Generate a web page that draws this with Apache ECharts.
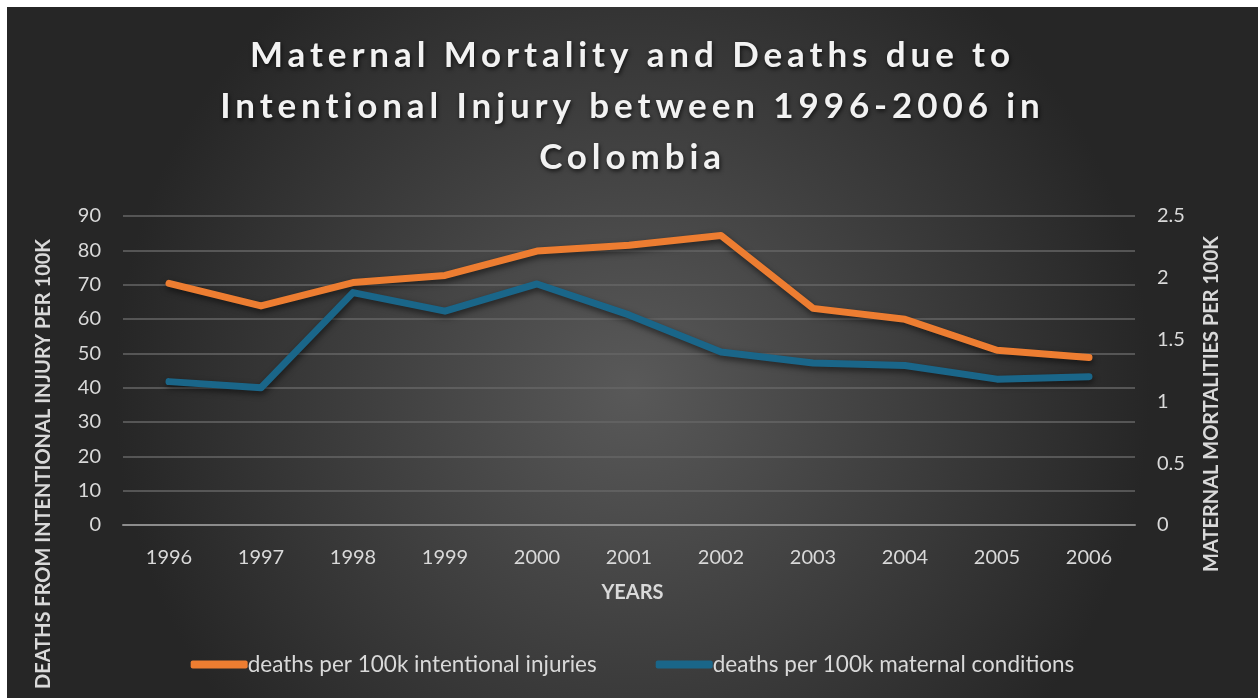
<!DOCTYPE html>
<html>
<head>
<meta charset="utf-8">
<style>
  html, body { margin: 0; padding: 0; background: #ffffff; }
  #chart { position: absolute; left: 7px; top: 7px; width: 1251px; height: 691px; }
</style>
<script src="https://cdn.jsdelivr.net/npm/echarts@6/dist/echarts.min.js"></script>
</head>
<body>
<div id="chart"></div>
<script>
// Years on the category axis
const years = ['1996', '1997', '1998', '1999', '2000', '2001', '2002', '2003', '2004', '2005', '2006'];
// Deaths per 100k from intentional injuries (left axis)
const intentionalInjuries = [70.4, 63.8, 70.6, 72.7, 79.8, 81.5, 84.3, 63.1, 59.9, 50.9, 48.8];
// Deaths per 100k from maternal conditions (right axis)
const maternalConditions = [1.16, 1.11, 1.88, 1.73, 1.95, 1.70, 1.40, 1.31, 1.29, 1.18, 1.20];

const titleText = 'Maternal Mortality and Deaths due to\nIntentional Injury between 1996-2006 in\nColombia';
const leftAxisTitle = 'DEATHS FROM INTENTIONAL INJURY PER 100K';
const rightAxisTitle = 'MATERNAL MORTALITIES PER 100K';
const xAxisTitle = 'YEARS';
const seriesNames = ['deaths per 100k intentional injuries', 'deaths per 100k maternal conditions'];

const FONT = 'Lato';
const TITLE_FONT = 'Lato, sans-serif';
const LABEL = '#d9d9d9';
const GRID_LINE = '#666666';

// Wide tracking for the heading: canvas text has no letter-spacing option in the
// chart config, so apply it on the 2D context whenever the heading font is drawn.
(function () {
  const proto = CanvasRenderingContext2D.prototype;
  const origFill = proto.fillText;
  proto.fillText = function (text, x, y, maxWidth) {
    const isHeading = this.font.indexOf('35px') !== -1 && this.font.indexOf('sans-serif') !== -1;
    if (isHeading && 'letterSpacing' in this) {
      const prev = this.letterSpacing;
      this.letterSpacing = '4.9px';
      const r = maxWidth === undefined ? origFill.call(this, text, x, y) : origFill.call(this, text, x, y, maxWidth);
      this.letterSpacing = prev;
      return r;
    }
    return maxWidth === undefined ? origFill.call(this, text, x, y) : origFill.call(this, text, x, y, maxWidth);
  };
})();

const chart = echarts.init(document.getElementById('chart'));

const lineShadow = { shadowColor: 'rgba(0,0,0,0.55)', shadowBlur: 6, shadowOffsetX: 1, shadowOffsetY: 3 };

chart.setOption({
  backgroundColor: {
    type: 'radial', x: 0.5, y: 0.55, r: 0.75,
    colorStops: [
      { offset: 0, color: '#595959' },
      { offset: 1, color: '#262626' }
    ]
  },
  animation: false,
  title: {
    text: titleText,
    left: 'center',
    top: 18,
    textStyle: {
      fontFamily: TITLE_FONT, fontWeight: 'bold', fontSize: 35, lineHeight: 51,
      color: '#f2f2f2', align: 'center',
      textShadowColor: 'rgba(0,0,0,0.7)', textShadowBlur: 4, textShadowOffsetX: 1, textShadowOffsetY: 2
    }
  },
  grid: { left: 116, right: 123, top: 209, bottom: 173 },
  legend: {
    data: seriesNames,
    top: 641,
    left: 'center',
    itemWidth: 57,
    itemHeight: 8,
    itemGap: 59,
    icon: 'roundRect',
    textStyle: { fontFamily: FONT, fontSize: 22.5, color: LABEL, padding: [0, 0, 0, -5] }
  },
  xAxis: {
    type: 'category',
    data: years,
    boundaryGap: true,
    axisLine: { lineStyle: { color: '#8c8c8c', width: 2 } },
    axisTick: { show: false },
    axisLabel: { fontFamily: FONT, fontSize: 20, color: LABEL, margin: 23 }
  },
  yAxis: [
    {
      type: 'value', min: 0, max: 90, interval: 10,
      axisLine: { show: false }, axisTick: { show: false },
      axisLabel: { fontFamily: FONT, fontSize: 20, color: LABEL, margin: 22 },
      splitLine: { lineStyle: { color: GRID_LINE, width: 1.5 } }
    },
    {
      type: 'value', min: 0, max: 2.5, interval: 0.5,
      axisLine: { show: false }, axisTick: { show: false },
      axisLabel: { fontFamily: FONT, fontSize: 20, color: LABEL, margin: 22 },
      splitLine: { show: false }
    }
  ],
  graphic: [
    {
      type: 'text', left: 'center', top: 576,
      style: { text: xAxisTitle, fontFamily: FONT, fontWeight: 'bold', fontSize: 20, fill: LABEL }
    },
    {
      type: 'text', x: 37, y: 457, rotation: Math.PI / 2,
      style: { text: leftAxisTitle, fontFamily: FONT, fontWeight: 'bold', fontSize: 20, fill: LABEL,
               align: 'center', verticalAlign: 'middle' }
    },
    {
      type: 'text', x: 1205, y: 397, rotation: Math.PI / 2,
      style: { text: rightAxisTitle, fontFamily: FONT, fontWeight: 'bold', fontSize: 20, fill: LABEL,
               align: 'center', verticalAlign: 'middle' }
    }
  ],
  series: [
    {
      name: seriesNames[0], type: 'line', yAxisIndex: 0,
      data: intentionalInjuries, symbol: 'none',
      color: '#ED7D31',
      lineStyle: Object.assign({ width: 7, color: '#ED7D31', cap: 'round', join: 'round' }, lineShadow)
    },
    {
      name: seriesNames[1], type: 'line', yAxisIndex: 1,
      data: maternalConditions, symbol: 'none',
      color: '#1A6689',
      lineStyle: Object.assign({ width: 7, color: '#1A6689', cap: 'round', join: 'round' }, lineShadow)
    }
  ]
});
</script>
</body>
</html>
